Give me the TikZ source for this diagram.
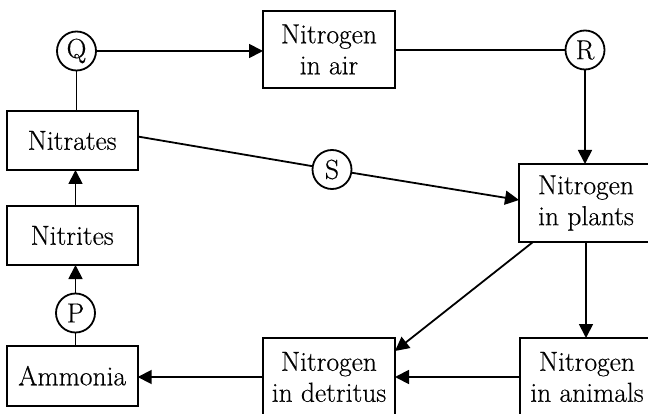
\documentclass[tikz,border=0pt]{standalone}
\usepackage{fontspec}
\newfontfamily\heavyrm[FakeBold=0.4]{Latin Modern Roman}
\usetikzlibrary{arrows.meta}
\begin{document}
\begin{tikzpicture}[x=1pt,y=-1pt,
  every node/.style={font=\heavyrm\fontsize{27.5}{31}\selectfont, inner sep=0pt, outer sep=0pt},
  boxnode/.style={draw, line width=1.8pt, rectangle, align=center},
  circnode/.style={draw, line width=1.8pt, circle, minimum size=39pt},
  conn/.style={line width=1.8pt},
  arr/.style={line width=1.8pt, -{Triangle[length=14pt,width=14pt]}}]
\useasboundingbox (0,0) rectangle (648,414);
\clip (0,0) rectangle (648,414);
\node[circnode] (Q) at (76.5,51) {Q};
\node[boxnode, minimum width=132pt, minimum height=77pt] (air) at (329,49.5) {Nitrogen\\in air};
\node[circnode] (R) at (585,50) {R};
\node[boxnode, minimum width=131pt, minimum height=59pt] (nitrates) at (72.2,140.5) {Nitrates};
\node[circnode] (S) at (332,169.5) {S};
\node[boxnode, minimum width=134pt, minimum height=78pt] (plants) at (586,203) {Nitrogen\\in plants};
\node[boxnode, minimum width=131pt, minimum height=59pt] (nitrites) at (72.2,235.5) {Nitrites};
\node[circnode] (P) at (75.5,313) {P};
\node[boxnode, minimum width=131pt, minimum height=60pt] (ammonia) at (72.2,375.7) {Ammonia};
\node[boxnode, minimum width=132pt, minimum height=78pt] (detritus) at (329,377) {Nitrogen\\in detritus};
\node[boxnode, minimum width=134pt, minimum height=78pt] (animals) at (587,377) {Nitrogen\\in animals};

\draw[conn] (Q.south) -- (Q |- nitrates.north);
\draw[arr] (Q.east) -- (Q.east -| air.west);
\draw[conn] (air.east |- R) -- (R.west);
\draw[arr] (R.south) -- (R |- plants.north);
\draw[conn] ([yshift=4pt]nitrates.east) -- (S);
\draw[arr] (S) -- ([yshift=3pt]plants.west);
\draw[arr] (plants.south) -- (plants.south |- animals.north);
\draw[arr] ([xshift=14pt]plants.south west) -- ([yshift=-13pt]detritus.north east);
\draw[arr] (animals.west |- detritus.east) -- (detritus.east);
\draw[arr] (detritus.west) -- (detritus.west -| ammonia.east);
\draw[conn] (P |- ammonia.north) -- (P.south);
\draw[arr] (P.north) -- (P |- nitrites.south);
\draw[arr] (P |- nitrites.north) -- (P |- nitrates.south);
\end{tikzpicture}
\end{document}
